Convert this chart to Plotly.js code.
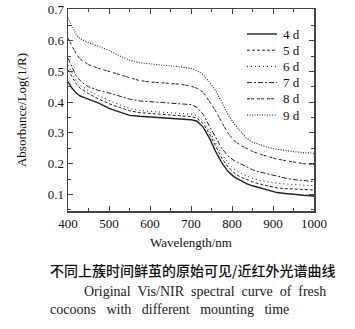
<!DOCTYPE html>
<html><head><meta charset="utf-8">
<script src="https://cdn.plot.ly/plotly-3.0.1.min.js"></script>
<style>html,body{margin:0;padding:0;background:#fff}#c{width:355px;height:329px}</style>
</head><body><div id="c"></div>
<script>
const wavelength = [400,410,420,430,440,450,475,500,525,550,575,600,625,650,675,700,715,730,745,760,775,790,805,820,835,850,870,890,910,930,950,975,1000];
const d4 = [0.467,0.445,0.430,0.420,0.415,0.410,0.397,0.380,0.368,0.357,0.354,0.352,0.351,0.348,0.345,0.343,0.338,0.318,0.283,0.240,0.203,0.175,0.157,0.145,0.135,0.128,0.120,0.112,0.106,0.103,0.100,0.097,0.095];
const d5 = [0.505,0.480,0.460,0.445,0.435,0.428,0.410,0.395,0.383,0.372,0.366,0.363,0.361,0.358,0.356,0.353,0.348,0.330,0.297,0.256,0.218,0.190,0.170,0.157,0.148,0.141,0.133,0.126,0.121,0.119,0.117,0.116,0.114];
const d6 = [0.520,0.495,0.470,0.455,0.445,0.437,0.420,0.405,0.392,0.380,0.373,0.370,0.368,0.366,0.364,0.361,0.356,0.340,0.307,0.266,0.230,0.203,0.183,0.170,0.160,0.152,0.145,0.140,0.136,0.134,0.132,0.130,0.128];
const d7 = [0.543,0.515,0.485,0.470,0.458,0.450,0.438,0.430,0.420,0.410,0.404,0.402,0.400,0.398,0.396,0.392,0.383,0.360,0.322,0.288,0.250,0.225,0.210,0.200,0.190,0.180,0.172,0.165,0.158,0.153,0.148,0.145,0.142];
const d8 = [0.608,0.580,0.557,0.540,0.530,0.522,0.510,0.500,0.490,0.478,0.470,0.466,0.464,0.461,0.458,0.452,0.445,0.432,0.400,0.372,0.335,0.300,0.275,0.260,0.250,0.240,0.230,0.222,0.215,0.210,0.205,0.200,0.197];
const d9 = [0.673,0.645,0.620,0.605,0.600,0.595,0.583,0.568,0.551,0.537,0.528,0.524,0.521,0.518,0.515,0.510,0.502,0.489,0.465,0.438,0.400,0.360,0.330,0.305,0.283,0.270,0.260,0.252,0.247,0.242,0.239,0.236,0.234];
const seriesNames = ['4 d','5 d','6 d','7 d','8 d','9 d'];
const seriesData = [d4,d5,d6,d7,d8,d9];
const dashes = ['solid','3px,2px','1px,3px','5px,2px,2px,2px','3px,1px,3px,3px','1px,1.5px'];
const widths = [1.4,1,1,1,1,1.1];

const serif = 'Liberation Serif';
const ink = '#222';
const traces = seriesData.map((y,i)=>({
  x: wavelength, y: y, type:'scatter', mode:'lines', name: seriesNames[i],
  line:{color:ink, width:widths[i], dash:dashes[i]}
}));

// manual legend (Plotly's minimum legend row height is larger than the reference's spacing)
const W = 246, H = 202;
const legX0 = (247-68)/W, legX1 = (277-68)/W, legTX = (281-68)/W;
const legY = (i)=> (211 - (34 + i*16.2))/H;
const shapes = seriesNames.map((n,i)=>({
  type:'line', xref:'paper', yref:'paper', x0:legX0, x1:legX1, y0:legY(i), y1:legY(i),
  line:{color:ink, width:widths[i], dash:dashes[i]}
}));
const legendText = seriesNames.map((n,i)=>({
  xref:'paper', yref:'paper', x:legTX, y:legY(i), xanchor:'left', yanchor:'middle', showarrow:false,
  text:n, font:{family:serif, size:13, color:'#111'}
}));

const axBase = {
  showgrid:false, zeroline:false, showline:true, linecolor:'#444', linewidth:1.5,
  mirror:'allticks', ticks:'inside', ticklen:5, tickwidth:1, tickcolor:'#444',
  tickfont:{family:serif, size:13, color:'#111'}
};
const layout = {
  width:355, height:329, margin:{l:68, r:41, t:9, b:118},
  paper_bgcolor:'#fff', plot_bgcolor:'#fff', showlegend:false,
  xaxis: Object.assign({}, axBase, {range:[400,1000], tickvals:[400,500,600,700,800,900,1000], minor:{ticks:'inside', ticklen:3, tickcolor:'#444', dtick:50, tick0:400},
    title:{text:'Wavelength/nm', font:{family:serif, size:13, color:'#111'}, standoff:8}}),
  yaxis: Object.assign({}, axBase, {range:[0.046,0.703], tickvals:[0.1,0.2,0.3,0.4,0.5,0.6,0.7], tickformat:'.1f', minor:{ticks:'inside', ticklen:3, tickcolor:'#444', dtick:0.05, tick0:0.1},
    title:{text:'Absorbance/Log(1/R)', font:{family:serif, size:13, color:'#111'}, standoff:18}}),
  shapes: shapes,
  annotations: legendText.concat([
    {xref:'paper', yref:'paper', x:0.5, y:0, xanchor:'center', yanchor:'middle', yshift:-59, xshift:1, showarrow:false,
     text:'不同上蔟时间鲜茧的原始可见/近红外光谱曲线', font:{family:'Noto Sans CJK SC', size:14, color:'#111', weight:500}},
    {xref:'paper', yref:'paper', x:0, y:0, xanchor:'left', yanchor:'middle', xshift:14, yshift:-80, showarrow:false,
     text:'Original  Vis/NIR  spectral  curve  of  fresh', font:{family:serif, size:14, color:'#222'}},
    {xref:'paper', yref:'paper', x:0, y:0, xanchor:'left', yanchor:'middle', xshift:-20, yshift:-98, showarrow:false,
     text:'cocoons &nbsp; with &nbsp; different &nbsp; mounting &nbsp; time', font:{family:serif, size:14, color:'#222'}}
  ])
};
Plotly.newPlot('c', traces, layout, {displayModeBar:false, staticPlot:true});
</script></body></html>
